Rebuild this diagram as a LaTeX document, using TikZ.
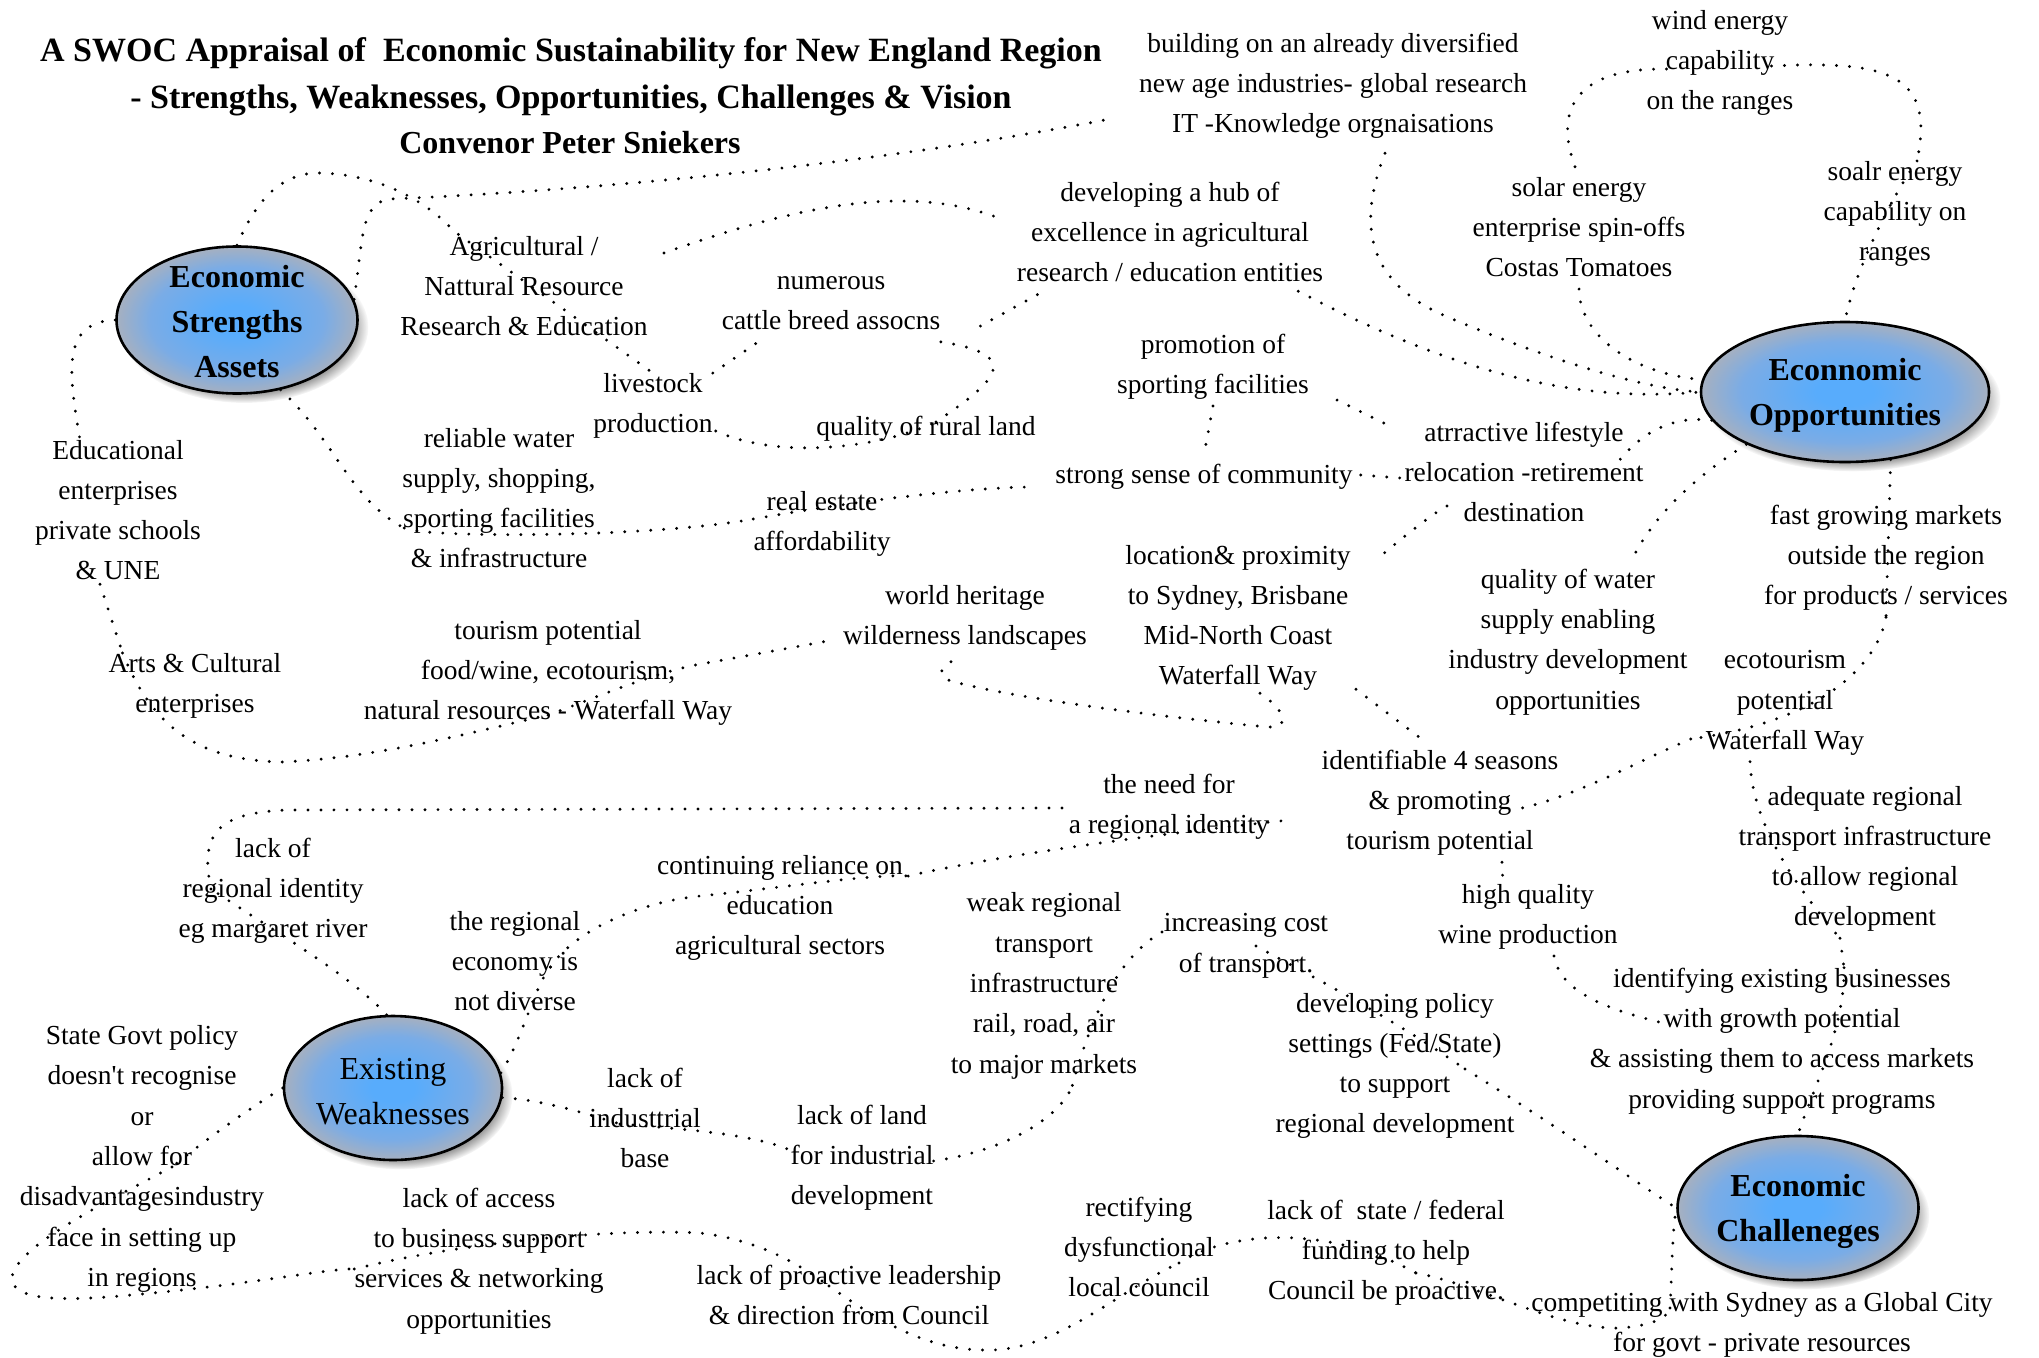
\documentclass[tikz,border=0pt]{standalone}
\usepackage{fontspec}
\setmainfont{Liberation Serif}
\usetikzlibrary{shapes.geometric,shadows,fadings}
\definecolor{hubin}{RGB}{88,172,252}
\definecolor{hubmid}{RGB}{122,172,230}
\definecolor{hubout}{RGB}{166,176,192}
\pgfdeclareradialshading{hubshade}{\pgfpoint{0bp}{0bp}}{color(0bp)=(hubin); color(5bp)=(hubin); color(18bp)=(hubmid); color(25bp)=(hubout); color(50bp)=(hubout)}
\pgfdeclarelayer{background}
\pgfsetlayers{background,main}
\newcommand\bodyfnt{\fontsize{27.5}{40.3}\selectfont}
\newcommand\hubfnt{\fontsize{32}{45}\selectfont}
\newcommand\titlefnt{\fontsize{34}{40}\selectfont\bfseries}
\tikzset{
 dl/.style={line width=3.2pt, line cap=round, dash pattern=on 0pt off 13pt},
 txt/.style={align=center, inner sep=0pt, font=\bodyfnt, yshift=-6pt, execute at begin node=\strut, execute at end node=\strut},
 hub/.style={ellipse, draw=black, line width=2.6pt, shading=hubshade, inner sep=0pt,
   circular drop shadow={shadow xshift=7pt, shadow yshift=-7pt, shadow scale=1.03, opacity=0.55, fill=black!80}},
 hubtxt/.style={align=center, inner sep=0pt, font=\hubfnt\bfseries},
 hubtxtr/.style={align=center, inner sep=0pt, font=\hubfnt},
 ttl/.style={inner sep=0pt, font=\titlefnt},
}
\begin{document}
\begin{tikzpicture}[x=1pt,y=-1pt]
\begin{pgfonlayer}{background}
\fill[white] (0,0) rectangle (2039,1357);
\end{pgfonlayer}
\useasboundingbox (0,0) rectangle (2039,1357);

% title
\node[ttl] (T1) at (571,53) {A SWOC Appraisal of\ \ Economic Sustainability for New England Region};
\node[ttl] (T2) at (571,100) {- Strengths, Weaknesses, Opportunities, Challenges \& Vision};
\node[ttl, font=\fontsize{32}{40}\selectfont\bfseries] (T3) at (570,143) {Convenor Peter Sniekers};

% hubs
\node[hub, minimum width=241, minimum height=147] (E1) at (237,320) {};
\node[hubtxt] (E1t) at (237,322) {Economic\\Strengths\\Assets};
\node[hub, minimum width=288, minimum height=140] (E2) at (1845,392) {};
\node[hubtxt] (E2t) at (1845,395) {Econnomic\\Opportunities};
\node[hub, minimum width=218, minimum height=144] (E3) at (393,1088) {};
\node[hubtxtr] (E3t) at (393,1092) {Existing\\Weaknesses};
\node[hub, minimum width=241, minimum height=144] (E4) at (1798,1208) {};
\node[hubtxt] (E4t) at (1798,1211) {Economic\\Challeneges};

% text nodes
\node[txt] (A) at (1333,83) {building on an already diversified\\new age industries- global research\\IT -Knowledge orgnaisations};
\node[txt] (B) at (1720,60) {wind energy\\capability\\on the ranges};
\node[txt] (C) at (1579,227) {solar energy\\enterprise spin-offs\\Costas Tomatoes};
\node[txt] (D) at (1895,211) {soalr energy\\capability on\\ranges};
\node[txt] (E) at (1170,232) {developing a hub of\\excellence in agricultural\\research / education entities};
\node[txt] (F) at (524,286) {Agricultural /\\Nattural Resource\\Research \& Education};
\node[txt] (G) at (831,303) {numerous\\cattle breed assocns};
\node[txt] (H) at (653,403) {livestock\\production};
\node[txt] (I) at (926,421) {quality of rural land};
\node[txt] (J) at (1213,364) {promotion of\\sporting facilities};
\node[txt] (K) at (1204,469) {strong sense of community};
\node[txt] (L) at (1524,472) {atrractive lifestyle\\relocation -retirement\\destination};
\node[txt] (M) at (499,498) {reliable water\\supply, shopping,\\sporting facilities\\\& infrastructure};
\node[txt] (N) at (822,521) {real estate\\affordability};
\node[txt] (O) at (118,510) {Educational\\enterprises\\private schools\\\& UNE};
\node[txt] (P) at (1238,615) {location\& proximity\\to Sydney, Brisbane\\Mid-North Coast\\Waterfall Way};
\node[txt] (Q) at (965,615) {world heritage\\wilderness landscapes};
\node[txt] (R) at (548,670) {tourism potential\\food/wine, ecotourism,\\natural resources - Waterfall Way};
\node[txt] (S) at (195,683) {Arts \& Cultural\\enterprises};
\node[txt] (T) at (1568,639) {quality of water\\supply enabling\\industry development\\opportunities};
\node[txt] (U) at (1886,555) {fast growing markets\\outside the region\\for products / services};
\node[txt] (V) at (1785,700) {ecotourism\\potential\\Waterfall Way};
\node[txt] (W) at (1440,800) {identifiable 4 seasons\\\& promoting\\tourism potential};
\node[txt] (X) at (1169,804) {the need for\\a regional identity};
\node[txt] (Y) at (273,888) {lack of\\regional identity\\eg margaret river};
\node[txt] (Z) at (780,905) {continuing reliance on\\education\\agricultural sectors};
\node[txt] (AA) at (515,961) {the regional\\economy is\\not diverse};
\node[txt] (AB) at (1044,983) {weak regional\\transport\\infrastructure\\rail, road, air\\to major markets};
\node[txt] (AC) at (1246,943) {increasing cost\\of transport.};
\node[txt] (AD) at (1528,914) {high quality\\wine production};
\node[txt] (AE) at (1865,856) {adequate regional\\transport infrastructure\\to allow regional\\development};
\node[txt] (AF) at (1782,1038) {identifying existing businesses\\with growth potential\\\& assisting them to access markets\\providing support programs};
\node[txt] (AG) at (1395,1063) {developing policy\\settings (Fed/State)\\to support\\regional development};
\node[txt] (AH) at (142,1156) {State Govt policy\\doesn\textquotesingle t recognise\\or\\allow for\\disadvantagesindustry\\face in setting up\\in regions};
\node[txt] (AI) at (645,1118) {lack of\\industtrial\\base};
\node[txt] (AJ) at (862,1155) {lack of land\\for industrial\\development};
\node[txt] (AK) at (479,1258) {lack of access\\to business support\\services \& networking\\opportunities};
\node[txt] (AL) at (849,1295) {lack of proactive leadership\\\& direction from Council};
\node[txt] (AM) at (1139,1247) {rectifying\\dysfunctional\\local council};
\node[txt] (AN) at (1386,1250) {lack of\ \ state / federal\\funding to help\\Council be proactive.};
\node[txt] (AO) at (1762,1322) {competiting with Sydney as a Global City\\for govt - private resources};

\begin{pgfonlayer}{background}
% Strengths
\draw[dl] (E1.north) .. controls (258,195) and (285,172) .. (321,173) .. controls (380,175) and (425,200) .. (455,232) -- (H.north);
\draw[dl] (E1.10) .. controls (363,240) and (360,203) .. (390,199) .. controls (560,192) and (860,168) .. ([shift={(-24,29)}]A.west);
\draw[dl] (E1.west) .. controls (62,322) and (68,370) .. ([shift={(-38,0)}]O.north);
\draw[dl] ([shift={(-18,-8)}]O.south) -- ([shift={(14,0)}]S.north west);
\draw[dl] ([shift={(14,0)}]S.north west) .. controls (150,720) and (190,760) .. (281,762) .. controls (380,758) and (480,730) .. ([shift={(0,-17)}]R.south);
\draw[dl] ([shift={(0,-17)}]R.south) .. controls (590,700) and (640,678) .. (690,666) -- ([shift={(-15,20)}]Q.west);
\draw[dl] (E1.-58) .. controls (335,440) and (350,500) .. ([shift={(2,24)}]M.west);
\draw[dl] ([shift={(2,24)}]M.west) .. controls (420,538) and (650,538) .. ([shift={(0,-8)}]N.west);
\draw[dl] ([shift={(0,-8)}]N.west) .. controls (850,502) and (960,488) .. ([shift={(-25,12)}]K.west);
\draw[dl] ([shift={(16,-39)}]F.east) .. controls (780,212) and (900,180) .. ([shift={(-18,-20)}]E.west);
\draw[dl] (H.north east) -- ([shift={(41,-3)}]G.south west);
\draw[dl] ([shift={(3,22)}]H.east) .. controls (780,460) and (880,448) .. ([shift={(10,-5)}]I.center);
\draw[dl] ([shift={(10,-5)}]I.center) .. controls (990,385) and (1030,355) .. (G.south east);
\draw[dl] ([shift={(40,17)}]G.east) -- ([shift={(27,-3)}]E.south west);
% Opportunities
\draw[dl] ([shift={(52,8)}]A.south) .. controls (1355,230) and (1370,285) .. (1450,318) .. controls (1550,360) and (1640,388) .. (E2.west);
\draw[dl] ([shift={(-25,-3)}]E.south east) .. controls (1430,360) and (1560,405) .. (E2.west);
\draw[dl] (C.south) .. controls (1580,340) and (1640,375) .. (E2.175);
\draw[dl] ([shift={(20,3)}]B.west) .. controls (1575,68) and (1550,110) .. (C.north);
\draw[dl] ([shift={(-22,0)}]B.east) .. controls (1890,60) and (1935,75) .. ([shift={(22,0)}]D.north);
\draw[dl] ([shift={(22,0)}]D.north) .. controls (1890,200) and (1855,270) .. (E2.north);
\draw[dl] (J.south) -- (K.north);
\draw[dl] ([shift={(28,-6)}]J.south east) -- ([shift={(-17,3)}]L.north west);
\draw[dl] ([shift={(8,0)}]K.east) -- ([shift={(-4,0)}]L.west);
\draw[dl] (E2.192) .. controls (1670,415) and (1640,435) .. ([shift={(-24,-18)}]L.east);
\draw[dl] ([shift={(-77,28)}]L.center) .. controls (1430,515) and (1400,540) .. ([shift={(24,16)}]P.north east);
\draw[dl] (E2.208) .. controls (1690,480) and (1650,520) .. ([shift={(62,-5)}]T.north);
\draw[dl] (E2.-56) -- (U.south);
\draw[dl] (U.south) .. controls (1878,660) and (1830,720) .. ([shift={(-15,33)}]V.west);
\draw[dl] ([shift={(-15,33)}]V.west) .. controls (1640,760) and (1580,795) .. ([shift={(78,3)}]W.center);
\draw[dl] ([shift={(-35,0)}]V.south) .. controls (1752,820) and (1790,880) .. ([shift={(-25,0)}]AE.south);
\draw[dl] ([shift={(-25,0)}]AE.south) -- ([shift={(62,0)}]AF.north);
\draw[dl] ([shift={(62,0)}]AF.north) .. controls (1845,1030) and (1812,1090) .. (E4.north);
\draw[dl] ([shift={(26,0)}]AD.south) .. controls (1560,990) and (1600,1008) .. ([shift={(-115,-20)}]AF.center);
\draw[dl] ([shift={(62,0)}]W.south) -- ([shift={(-25,0)}]AD.north);
\draw[dl] ([shift={(118,-8)}]P.south) -- ([shift={(-20,-12)}]W.north);
\draw[dl] ([shift={(22,-4)}]P.south) .. controls (1285,710) and (1292,728) .. (1268,727) .. controls (1150,716) and (1000,696) .. (948,680) .. controls (938,672) .. ([shift={(-8,0)}]Q.south);
% Weaknesses
\draw[dl] (E3.95) .. controls (350,975) and (280,935) .. ([shift={(-62,-5)}]Y.center);
\draw[dl] ([shift={(-62,-5)}]Y.center) .. controls (200,835) and (215,812) .. (290,810) -- ([shift={(-5,-2)}]X.west);
\draw[dl] (E3.8) .. controls (522,1040) and (535,985) .. ([shift={(-30,0)}]AA.east);
\draw[dl] ([shift={(-30,0)}]AA.east) .. controls (575,930) and (640,902) .. (700,896) .. controls (780,888) and (870,874) .. ([shift={(5,-35)}]Z.east);
\draw[dl] ([shift={(5,-35)}]Z.east) .. controls (1000,855) and (1150,835) .. ([shift={(20,10)}]X.east);
\draw[dl] (E3.-5) .. controls (540,1100) and (575,1110) .. ([shift={(-25,0)}]AI.center);
\draw[dl] ([shift={(-25,0)}]AI.center) .. controls (700,1130) and (760,1136) .. ([shift={(-70,-10)}]AJ.center);
\draw[dl] (AJ.east) .. controls (1010,1150) and (1062,1115) .. ([shift={(-65,0)}]AB.south east);
\draw[dl] ([shift={(-65,0)}]AB.south east) .. controls (1085,1040) and (1110,960) .. ([shift={(0,-18)}]AC.west);
\draw[dl] ([shift={(10,-3)}]AC.center) .. controls (1290,965) and (1380,1010) .. ([shift={(70,0)}]AG.center);
\draw[dl] ([shift={(70,0)}]AG.center) .. controls (1560,1128) and (1640,1185) .. (E4.west);
\draw[dl] (E3.west) .. controls (250,1108) and (205,1140) .. ([shift={(30,5)}]AH.center);
\draw[dl] ([shift={(30,5)}]AH.center) .. controls (100,1205) and (10,1250) .. (12,1280) .. controls (15,1300) and (60,1301) .. (120,1296) .. controls (250,1285) and (330,1268) .. ([shift={(0,5)}]AK.west);
\draw[dl] ([shift={(0,5)}]AK.west) .. controls (450,1245) and (600,1228) .. (700,1233) .. controls (760,1240) and (800,1265) .. ([shift={(-20,-15)}]AL.center);
\draw[dl] ([shift={(-20,-15)}]AL.center) .. controls (880,1322) and (930,1352) .. (992,1350) .. controls (1060,1348) and (1120,1290) .. ([shift={(40,10)}]AM.center);
\draw[dl] ([shift={(40,10)}]AM.center) .. controls (1230,1230) and (1330,1225) .. ([shift={(30,17)}]AN.center);
\draw[dl] ([shift={(30,17)}]AN.center) .. controls (1480,1285) and (1560,1330) .. (1620,1328) .. controls (1650,1326) and (1668,1318) .. ([shift={(-92,-20)}]AO.center);
\draw[dl] ([shift={(-92,-20)}]AO.center) .. controls (1672,1270) and (1672,1235) .. (E4.west);
\end{pgfonlayer}
\end{tikzpicture}
\end{document}
